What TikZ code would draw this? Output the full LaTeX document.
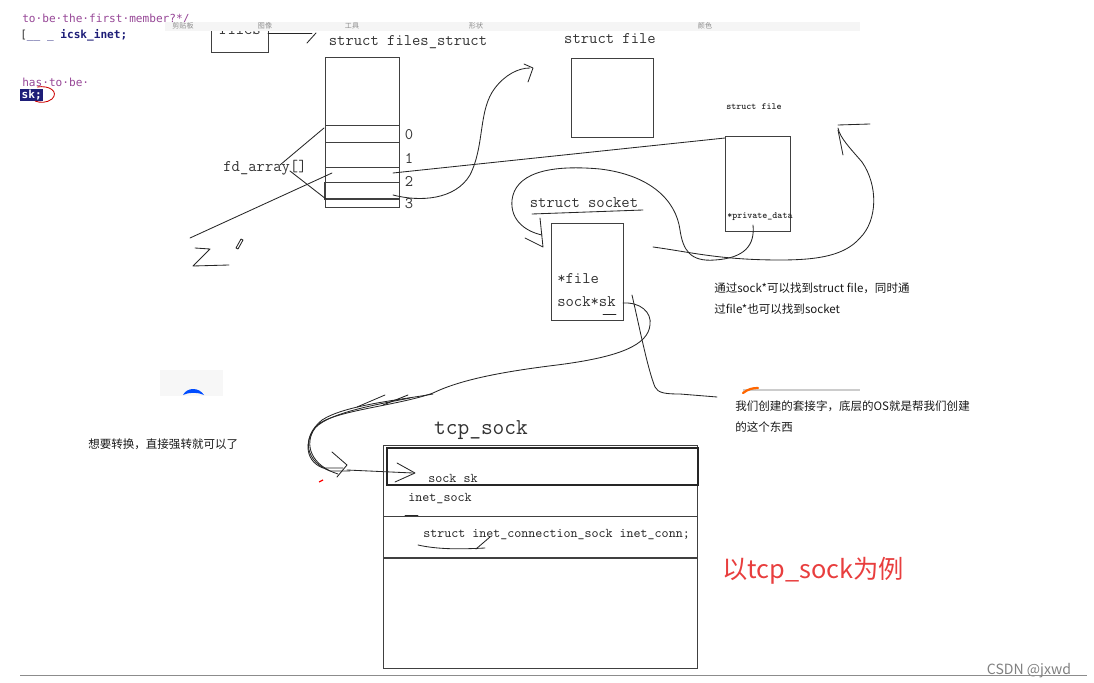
\documentclass[tikz,border=0pt]{standalone}
\usepackage{fontspec}
\newfontfamily\cjk{Noto Sans CJK SC}
\newfontfamily\codefont{DejaVu Sans Mono}
\usetikzlibrary{positioning}
\definecolor{codepurple}{RGB}{150,70,150}
\definecolor{codenavy}{RGB}{30,30,120}
\definecolor{redtxt}{RGB}{232,62,62}

\begin{document}
\begin{tikzpicture}[x=0.025cm,y=-0.025cm,
  box/.style={draw=black!75,line width=0.6pt},
  pen/.style={black!85,line width=0.6pt,line cap=round,line join=round},
  mono/.style={font=\ttfamily\fontsize{11.5}{12}\selectfont,text=black!80,inner sep=0pt},
  tiny/.style={font=\ttfamily\bfseries\fontsize{6.8}{7}\selectfont,text=black!85,inner sep=0pt},
  row/.style={font=\ttfamily\fontsize{9.5}{10}\selectfont,text=black!85,inner sep=0pt},
  code/.style={font=\codefont\fontsize{7.9}{8}\selectfont,inner sep=0pt,anchor=west},
  note/.style={font=\cjk\fontsize{8.2}{9}\selectfont,text=black!90,inner sep=0pt,anchor=west},
  bar/.style={font=\cjk\fontsize{5}{5}\selectfont,text=black!45,inner sep=0pt}]
\useasboundingbox (0,0) rectangle (1094,683);

% editor fragment
\node[code,text=codepurple] (code1) at (22,19) {to·be·the·first·member?*/};
\node[code,text=black!80] (code2) at (20,35) {[\textcolor{codenavy}{\_\_ \_ \textbf{icsk\_inet;}}};
\node[code,text=codepurple] (code3) at (22,82) {has·to·be·};
\node[code,fill=codenavy,text=white,inner sep=1pt] (code4) at (20,95) {\textbf{sk;}};
\draw[red!80!black,line width=0.6pt] (37,87) .. controls (50,85) and (59,92) .. (52,99) .. controls (47,103) and (40,103) .. (35,101);

% files
\draw[box] (211,24) rectangle (268,52);
\begin{scope}
  \clip (205,31) rectangle (275,45);
  \node[mono] (files) at (240,30) {files};
\end{scope}
\draw[pen] (268,33) -- (312,33);
\draw[pen] (316,33) -- (307,43);

% toolbar strip
\fill[black!4] (165,22) rectangle (860,31);
\foreach \x/\t in {183/剪贴板,265/图像,352/工具,476/形状,705/颜色}
  \node[bar] (tb\x) at (\x,26) {\t};

% files_struct
\node[mono] (fslabel) at (408,42) {struct files\_struct};
\draw[box] (325,57) rectangle (399,207);
\foreach \y in {125,142,167,182}
  \draw[box] (325,\y) -- (399,\y);
\draw[box,line width=1.2pt] (325,182) -- (325,199) -- (399,199);
\foreach \y/\i in {135/0,158/1,181/2,204/3}
  \node[mono] (idx\i) at (409,\y) {\i};
\node[mono] (fdarr) at (265,168) {fd\_array[]};
\draw[pen] (280,165) -- (324,128);
\draw[pen] (290,171) -- (326,199);
\draw[pen] (190,238) -- (332,173);
\draw[pen] (195,248) -- (210,249) -- (193,266) -- (229,265);
\draw[pen] (236,248) -- (241,239) -- (243,240) -- (238,249) -- cycle;

% struct file
\node[mono] (sfile) at (610,39) {struct file};
\draw[box] (571,58) rectangle (653,137);
\draw[pen] (393,195) .. controls (420,202) and (455,200) .. (470,175) .. controls (485,145) and (478,110) .. (495,88) .. controls (505,75) and (518,68) .. (530,68);
\draw[pen] (524,64) -- (533,68) -- (528,82);
\draw[pen] (393,173) -- (725,138);

% struct file (socket side)
\node[tiny] (sfile2) at (754,107) {struct file};
\draw[box] (725,136) rectangle (790,231);
\node[tiny,anchor=west] (pdata) at (727,217) {*private\_data};

% struct socket
\node[mono] (sslabel) at (584,203) {struct socket};
\draw[pen] (532,214) -- (643,210);
\draw[box] (551,223) rectangle (623,320);
\node[mono,anchor=west] (sfilep) at (557,279) {*file};
\node[mono,anchor=west] (sksock) at (557,302) {sock*sk};
\draw[pen] (603,314) -- (616,314);
\draw[pen] (753,225) .. controls (755,245) and (745,258) .. (715,260) .. controls (690,262) and (683,250) .. (680,230) .. controls (676,200) and (650,175) .. (600,169) .. controls (545,164) and (515,175) .. (512,200) .. controls (510,222) and (528,232) .. (542,235);
\draw[pen] (540,218) -- (543,247) -- (525,238);
\draw[pen] (653,247) .. controls (690,252) and (720,260) .. (780,260) .. controls (820,260) and (845,255) .. (860,238) .. controls (878,220) and (878,185) .. (862,162) .. controls (850,148) and (840,138) .. (838,128);
\draw[pen] (838,125) -- (870,124);
\draw[pen] (838,130) -- (843,155);

% sk -> tcp_sock
\draw[pen] (623,303) .. controls (640,302) and (652,312) .. (650,325) .. controls (648,345) and (620,357) .. (557,365) .. controls (500,372) and (460,380) .. (433,393) .. controls (400,405) and (340,410) .. (320,423) .. controls (305,435) and (302,460) .. (323,468) -- (343,468);
\draw[pen] (433,394) .. controls (400,400) and (345,405) .. (322,420) .. controls (300,438) and (306,462) .. (330,471) -- (350,471);
\draw[pen] (410,398) .. controls (380,404) and (330,412) .. (315,428) .. controls (303,445) and (312,466) .. (338,474);
\draw[pen] (357,407) -- (385,395);
\draw[pen] (383,405) -- (408,395);
\draw[pen] (332,452) -- (347,465) -- (337,477);
\draw[pen] (347,470) -- (413,473);
\draw[pen] (397,463) -- (415,473) -- (395,482);
\draw[red,line width=0.8pt] (319,482) -- (323,480);
\draw[pen] (632,295) .. controls (640,330) and (648,370) .. (655,387) .. controls (658,393) and (665,394) .. (680,394) -- (717,397);

% notes
\node[note] (note1a) at (714,288) {通过sock*可以找到struct file，同时通};
\node[note] (note1b) at (714,309) {过file*也可以找到socket};
\draw[black!20,line width=0.8pt] (743,390) -- (860,390);
\draw[orange!80!red,line width=1.6pt,line cap=round] (743,393) .. controls (748,389) and (753,388) .. (758,388);
\node[note] (note2a) at (735,406) {我们创建的套接字，底层的OS就是帮我们创建};
\node[note] (note2b) at (735,427) {的这个东西};
\fill[black!3] (160,370) rectangle (223,396);
\fill[blue!70!cyan] (183,395) .. controls (187,387) and (199,387) .. (204,395) .. controls (198,392) and (189,392) .. (183,395) -- cycle;
\node[note] (note3) at (88,444) {想要转换，直接强转就可以了};

% tcp_sock
\node[font=\ttfamily\fontsize{16.2}{17}\selectfont,text=black!80,inner sep=0pt] (tcplabel) at (481,430) {tcp\_sock};
\draw[box] (383,445) rectangle (697,668);
\draw[black!85,line width=1.4pt] (387,448) rectangle (698,485);
\draw[box] (383,516) -- (697,516);
\draw[box,line width=1pt] (383,558) -- (697,558);
\node[row] (sksk) at (453,478) {sock sk};
\node[row] (inetsock) at (440,499) {inet\_sock};
\node[row,anchor=west] (inetconn) at (423,535) {struct inet\_connection\_sock inet\_conn;};
\draw[pen] (405,515) -- (418,515);
\draw[pen] (418,545) .. controls (440,550) and (465,549) .. (485,548);
\draw[pen] (476,549) -- (490,537);

\node[font=\cjk\fontsize{18}{20}\selectfont,text=redtxt,inner sep=0pt,anchor=west] (example) at (722,571) {以tcp\_sock为例};

% footer
\node[font=\cjk\fontsize{10}{10}\selectfont,text=black!50,inner sep=0pt] (csdn) at (1029,671) {CSDN @jxwd};
\draw[black!45,line width=0.7pt] (20,675) -- (1087,675);
\end{tikzpicture}
\end{document}
